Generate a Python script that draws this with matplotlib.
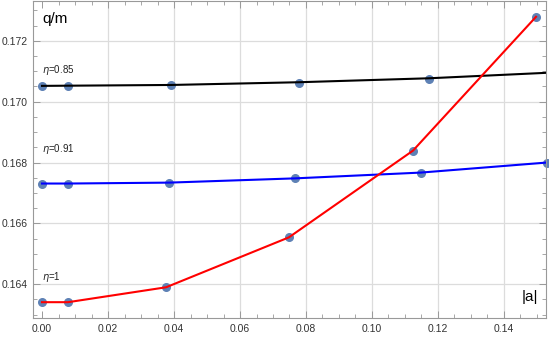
import numpy as np
import matplotlib
matplotlib.use("Agg")
import matplotlib.pyplot as plt
from matplotlib.ticker import MultipleLocator, FormatStrFormatter

plt.rcParams.update({"font.family": ["Liberation Sans", "DejaVu Sans"], "font.size": 7.5})

# data points
x085 = [0.0, 0.0079, 0.0391, 0.0779, 0.1173]
y085 = [0.17052, 0.17052, 0.17055, 0.17062, 0.17075]
x091 = [0.0, 0.0079, 0.0385, 0.0767, 0.1148, 0.1530]
y091 = [0.16731, 0.16731, 0.16734, 0.16748, 0.16767, 0.16800]
x1 = [0.0, 0.0079, 0.0376, 0.0748, 0.1124, 0.1497]
y1 = [0.16341, 0.16341, 0.16390, 0.16554, 0.16839, 0.17279]
# fitted curve as it appears (black one runs to the frame edge)
line085_x = [0.0, 0.0391, 0.0779, 0.1173, 0.1530]
line085_y = [0.17052, 0.17055, 0.17064, 0.17077, 0.17095]
xgrid = [0.02, 0.04, 0.06, 0.08, 0.10, 0.12, 0.14]
ygrid = [0.164, 0.166, 0.168, 0.170, 0.172]

DOT = "#5E81B5"
fig = plt.figure(figsize=(5.49, 3.48), dpi=100)
ax = fig.add_axes([33 / 549, 30 / 348, 513 / 549, 317 / 348])

for gx in xgrid:
    ax.axvline(gx, color="#DCDCDC", lw=0.9, zorder=0)
for gy in ygrid:
    ax.axhline(gy, color="#DCDCDC", lw=0.9, zorder=0)

ax.scatter(x085 + x091 + x1, y085 + y091 + y1, s=30, color=DOT, zorder=2, clip_on=False)
ax.plot(line085_x, line085_y, color="black", lw=1.5, zorder=3)
ax.plot(x091, y091, color="#0000FF", lw=1.5, zorder=3)
ax.plot(x1, y1, color="#FF0000", lw=1.5, zorder=3)

ax.set_xlim(-0.00273, 0.15273)
ax.set_ylim(0.16289, 0.17331)
ax.xaxis.set_major_locator(MultipleLocator(0.02))
ax.xaxis.set_minor_locator(MultipleLocator(0.005))
ax.yaxis.set_major_locator(MultipleLocator(0.002))
ax.yaxis.set_minor_locator(MultipleLocator(0.0005))
ax.xaxis.set_major_formatter(FormatStrFormatter("%.2f"))
ax.yaxis.set_major_formatter(FormatStrFormatter("%.3f"))
ax.tick_params(which="both", direction="in", top=True, right=True, colors="#999999",
               labelcolor="#333333", labelsize=7.5)
ax.tick_params(which="major", length=5, width=0.7, pad=4)
ax.tick_params(which="minor", length=3, width=0.6)
for s in ax.spines.values():
    s.set_color("#999999")
    s.set_linewidth(0.8)

ax.text(0.0, 0.17272, "q/m", fontsize=11, ha="left", va="center", color="black")
ax.text(0.1454, 0.16357, "|a|", fontsize=11, ha="left", va="center", color="black")
ax.text(0.0, 0.17105, r"$\eta$=0.85", fontsize=7, ha="left", va="center", color="#222222")
ax.text(0.0, 0.16843, r"$\eta$=0.91", fontsize=7, ha="left", va="center", color="#222222")
ax.text(0.0, 0.16423, r"$\eta$=1", fontsize=7, ha="left", va="center", color="#222222")

fig.savefig("out.png", dpi=100)
